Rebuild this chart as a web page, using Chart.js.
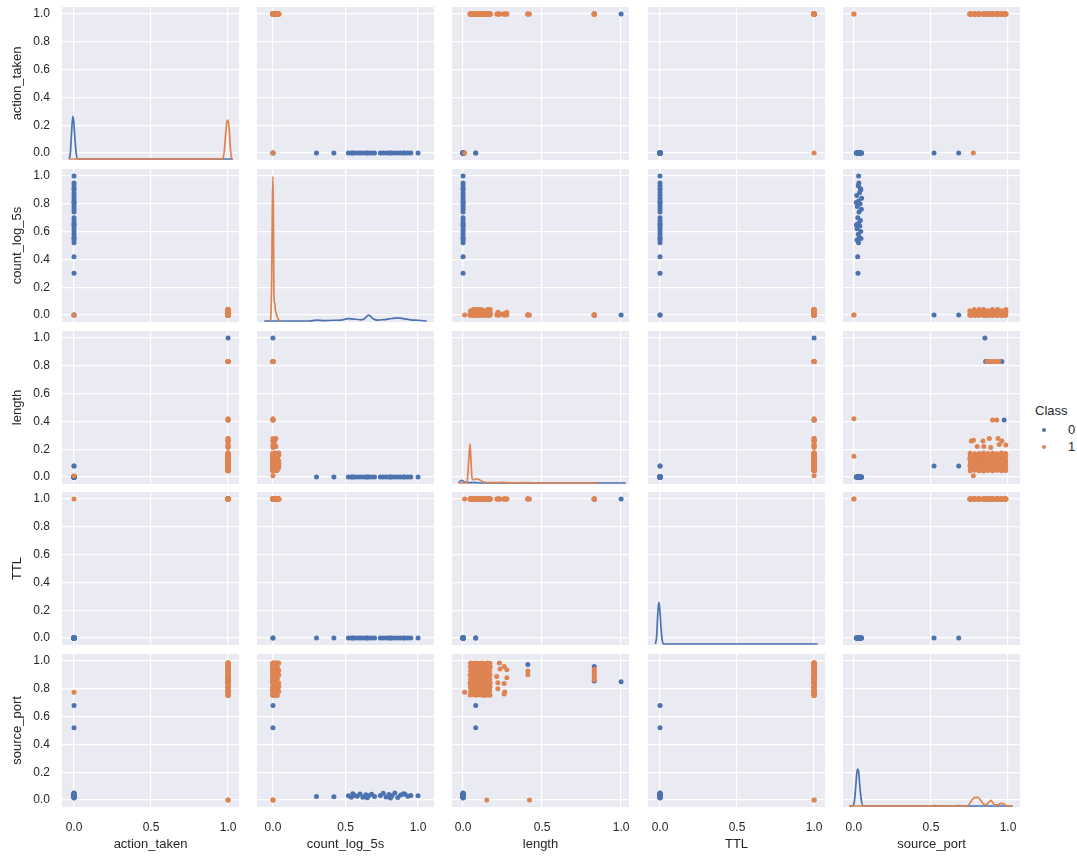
<!DOCTYPE html>
<html><head><meta charset="utf-8">
<script src="https://cdn.jsdelivr.net/npm/chart.js@4/dist/chart.umd.min.js"></script>
<style>
html,body{margin:0;padding:0;background:#fff;}
#wrap{position:relative;width:1077px;height:856px;overflow:hidden;font-family:"Liberation Sans",Arial,sans-serif;color:#262626;}
#wrap canvas{position:absolute;}
.leg{position:absolute;font-size:13px;line-height:16px;white-space:nowrap;color:#262626;}
.dot{position:absolute;width:4px;height:4px;border-radius:50%;}
</style></head><body><div id="wrap"></div>
<script>
// ---------------- data ----------------
const variables = ['action_taken', 'count_log_5s', 'length', 'TTL', 'source_port'];
const classLabels = ['0', '1'];
const xTickValues = [0, 0.5, 1.0];
const yTickValues = [0, 0.2, 0.4, 0.6, 0.8, 1.0];

// records: [action_taken, count_log_5s, length, TTL, source_port]
const class0Rows = [
  [0,0.30,0,0,0.026],[0,0.42,0,0,0.024],[0,0.52,0,0,0.030],[0,0.54,0,0,0.020],
  [0,0.55,0,0,0.046],[0,0.56,0,0,0.035],[0,0.58,0,0,0.028],[0,0.60,0,0,0.044],
  [0,0.62,0,0,0.020],[0,0.64,0,0,0.038],[0,0.65,0,0,0.016],[0,0.66,0,0,0.030],
  [0,0.68,0,0,0.042],[0,0.70,0,0,0.025],[0,0.74,0,0,0.033],[0,0.76,0,0,0.048],
  [0,0.78,0,0,0.022],[0,0.80,0,0,0.040],[0,0.81,0,0,0.015],[0,0.82,0,0,0.030],
  [0,0.84,0,0,0.050],[0,0.86,0,0,0.018],[0,0.88,0,0,0.036],[0,0.90,0,0,0.045],
  [0,0.91,0,0,0.042],[0,0.93,0,0,0.028],[0,0.95,0,0,0.032],[0,1.00,0,0,0.030],
  [1,0,1.0,1,0.85],[0,0,0.08,0,0.52],[0,0,0.08,0,0.68],
  [1,0,0.83,1,0.855],[1,0,0.83,1,0.96],[1,0,0.41,1,0.975]
];
const class1Rows = [
  [0,0,0.01,1,0.775],[1,0,0.42,1,0.0],[1,0,0.15,1,0.0],
  [1,0,0.83,1,0.865],[1,0,0.83,1,0.88],[1,0,0.83,1,0.895],[1,0,0.83,1,0.91],[1,0,0.83,1,0.925],[1,0,0.83,1,0.94],
  [1,0,0.41,1,0.90],[1,0,0.41,1,0.927],
  [1,0,0.26,1,0.762],[1,0.01,0.264,1,0.776],[1,0,0.26,1,0.838],[1,0.02,0.277,1,0.879],[1,0,0.277,1,0.936],
  [1,0.01,0.26,1,0.96],[1,0,0.22,1,0.80],[1,0.02,0.22,1,0.843],[1,0,0.213,1,0.888],[1,0.01,0.234,1,0.943],[1,0,0.23,1,0.986],
  [1,0,0.045,1,0.755],[1,0.01,0.063,1,0.758],[1,0,0.081,1,0.753],[1,0.02,0.099,1,0.757],[1,0,0.117,1,0.755],[1,0.03,0.135,1,0.752],[1,0,0.153,1,0.756],[1,0.01,0.171,1,0.754],
  [1,0,0.048,1,0.784],[1,0.04,0.066,1,0.781],[1,0,0.083,1,0.786],[1,0.01,0.101,1,0.783],[1,0,0.119,1,0.785],[1,0.02,0.137,1,0.782],[1,0,0.155,1,0.787],[1,0.03,0.168,1,0.784],
  [1,0.02,0.046,1,0.813],[1,0,0.064,1,0.811],[1,0.01,0.080,1,0.815],[1,0,0.098,1,0.812],[1,0.04,0.116,1,0.814],[1,0,0.134,1,0.810],[1,0.01,0.152,1,0.816],[1,0,0.170,1,0.813],
  [1,0,0.044,1,0.842],[1,0.03,0.062,1,0.840],[1,0,0.082,1,0.844],[1,0.02,0.100,1,0.841],[1,0,0.118,1,0.843],[1,0.01,0.136,1,0.839],[1,0,0.154,1,0.845],[1,0.04,0.172,1,0.842],
  [1,0.01,0.047,1,0.871],[1,0,0.065,1,0.869],[1,0.02,0.083,1,0.873],[1,0,0.100,1,0.870],[1,0.03,0.119,1,0.872],[1,0,0.137,1,0.868],[1,0.01,0.155,1,0.874],[1,0,0.169,1,0.871],
  [1,0,0.045,1,0.900],[1,0.02,0.063,1,0.898],[1,0,0.081,1,0.902],[1,0.04,0.099,1,0.899],[1,0,0.117,1,0.901],[1,0.01,0.135,1,0.897],[1,0,0.153,1,0.903],[1,0.02,0.171,1,0.900],
  [1,0.03,0.048,1,0.929],[1,0,0.066,1,0.927],[1,0.01,0.084,1,0.931],[1,0,0.102,1,0.928],[1,0.02,0.120,1,0.930],[1,0,0.138,1,0.926],[1,0.04,0.156,1,0.932],[1,0,0.168,1,0.929],
  [1,0,0.046,1,0.958],[1,0.01,0.064,1,0.956],[1,0,0.082,1,0.960],[1,0.03,0.100,1,0.957],[1,0,0.118,1,0.959],[1,0.02,0.136,1,0.955],[1,0,0.154,1,0.961],[1,0.01,0.172,1,0.958],
  [1,0.02,0.047,1,0.985],[1,0,0.065,1,0.983],[1,0.04,0.083,1,0.986],[1,0,0.101,1,0.984],[1,0.01,0.119,1,0.985],[1,0,0.137,1,0.982],[1,0.03,0.155,1,0.986],[1,0,0.170,1,0.984]
];

// KDE curves: [value, density]
const kdeActionTaken0 = [[-0.032,0],[-0.024,4],[-0.016,18],[-0.008,29.5],[-0.002,26],[0.006,14],[0.014,4],[0.024,0],[1.03,0]];
const kdeActionTaken1 = [[-0.032,0],[0.965,0],[0.975,5],[0.985,18],[0.993,26],[1.0,26.8],[1.008,20],[1.016,6],[1.025,0],[1.032,0]];
const kdeCount0 = [[-0.06,0],[0.25,0],[0.30,0.6],[0.35,0.2],[0.42,0.5],[0.47,0.6],[0.52,1.6],[0.57,1.2],[0.61,0.8],[0.63,1.5],[0.66,4.1],[0.69,1.6],[0.72,0.6],[0.76,0.9],[0.82,1.7],[0.86,2.1],[0.90,1.6],[0.95,0.8],[1.0,0.5],[1.06,0]];
const kdeCount1 = [[-0.016,0],[-0.009,25],[-0.004,80],[0.0,100],[0.003,75],[0.006,25],[0.009,13],[0.012,12.8],[0.016,8],[0.02,6],[0.025,4.4],[0.035,1.5],[0.048,0]];
const kdeLength0 = [[-0.03,0],[-0.02,1],[-0.008,1.9],[0.0,1.3],[0.01,0.7],[0.03,0.3],[0.08,0.3],[0.12,0],[1.03,0]];
const kdeLength1 = [[-0.025,0],[0.018,0],[0.027,2],[0.035,14],[0.044,27],[0.05,16],[0.056,4],[0.064,2.2],[0.076,2.6],[0.087,2.9],[0.1,2.4],[0.12,1.2],[0.14,0.4],[0.18,0.2],[0.25,0.5],[0.3,0.1],[0.4,0.2],[0.5,0],[0.85,0]];
const kdeTTL0 = [[-0.03,0],[-0.022,5],[-0.015,20],[-0.008,28.8],[-0.002,25],[0.006,12],[0.014,3],[0.024,0],[1.024,0]];
const kdeSource0 = [[-0.03,0],[-0.005,0],[0.004,4],[0.012,14],[0.019,23],[0.024,25.4],[0.03,24],[0.038,14],[0.048,4],[0.06,0],[0.5,0],[0.52,0.3],[0.55,0],[0.66,0],[0.68,0.3],[0.7,0],[1.03,0]];
const kdeSource1 = [[-0.03,0],[0.72,0],[0.745,0.8],[0.765,4],[0.785,6],[0.805,6],[0.825,3.5],[0.845,1],[0.86,0.9],[0.875,2.5],[0.89,3.9],[0.9,2.5],[0.915,0.7],[0.935,0.8],[0.95,1.6],[0.96,1.8],[0.975,1],[0.99,0.3],[1.024,0]];

// ---------------- drawing ----------------
const kdeByVar = [
  [kdeActionTaken0, kdeActionTaken1],
  [kdeCount0, kdeCount1],
  [kdeLength0, kdeLength1],
  [kdeTTL0, null],
  [kdeSource0, kdeSource1]
];
const rowsByClass = [class0Rows, class1Rows];
const COLORS = ['#4c72b0', '#dd8452'];
const BG = '#eaeaf2';
const TXT = '#262626';
const FONT = '"Liberation Sans", Arial, sans-serif';
const colLeft = [62, 257, 452, 648, 843];
const rowTop = [7, 169, 331, 492, 654];
const W = 177, H = 153, LEFTPAD = 62, BOTTOMPAD = 49;
const xRange = [[-0.078, 1.071], [-0.110, 1.110], [-0.070, 1.050], [-0.078, 1.071], [-0.071, 1.078]];
const yRange = [-0.05, 1.05];

const bgPlugin = {
  id: 'bg',
  beforeDraw(c) {
    const a = c.chartArea, ctx = c.ctx;
    ctx.save(); ctx.fillStyle = BG;
    ctx.fillRect(a.left, a.top, a.right - a.left, a.bottom - a.top);
    ctx.restore();
  }
};
function zeroPad(s) { s.paddingTop = 0; s.paddingBottom = 0; s.paddingLeft = 0; s.paddingRight = 0; }

const wrap = document.getElementById('wrap');
for (let i = 0; i < 5; i++) {
  for (let j = 0; j < 5; j++) {
    const padL = j === 0 ? LEFTPAD : 0;
    const padB = i === 4 ? BOTTOMPAD : 0;
    const cv = document.createElement('canvas');
    cv.width = W + padL; cv.height = H + padB;
    cv.style.left = (colLeft[j] - padL) + 'px';
    cv.style.top = rowTop[i] + 'px';
    cv.style.width = (W + padL) + 'px'; cv.style.height = (H + padB) + 'px';
    wrap.appendChild(cv);

    const datasets = [];
    if (i === j) {
      kdeByVar[i].forEach((curve, k) => {
        if (!curve) return;
        datasets.push({
          label: classLabels[k], order: 1 - k,
          data: curve.map(p => ({ x: p[0], y: p[1] })),
          yAxisID: 'yk', showLine: true, pointRadius: 0, borderColor: COLORS[k],
          borderWidth: 1.7, cubicInterpolationMode: 'monotone', fill: false
        });
      });
    } else {
      rowsByClass.forEach((rows, k) => {
        datasets.push({
          label: classLabels[k], order: 1 - k,
          data: rows.map(r => ({ x: r[j], y: r[i] })),
          pointRadius: 2.5, pointHoverRadius: 2.5, borderWidth: 0,
          backgroundColor: COLORS[k], borderColor: COLORS[k]
        });
      });
    }

    const scales = {
      x: {
        type: 'linear', position: 'bottom', min: xRange[j][0], max: xRange[j][1],
        grid: { color: '#ffffff', lineWidth: 1.2, drawTicks: false },
        border: { display: false },
        ticks: { display: i === 4, padding: 13, color: TXT, font: { family: FONT, size: 12 }, callback: v => Number(v).toFixed(1) },
        title: { display: i === 4, text: variables[j], color: TXT, font: { family: FONT, size: 13 }, padding: { top: 0, bottom: 4 } },
        afterBuildTicks: s => { s.ticks = xTickValues.map(v => ({ value: v })); },
        afterFit: s => { s.height = padB; zeroPad(s); }
      },
      y: {
        type: 'linear', position: 'left', min: yRange[0], max: yRange[1],
        grid: { color: '#ffffff', lineWidth: 1.2, drawTicks: false },
        border: { display: false },
        ticks: { display: j === 0, padding: 12, color: TXT, font: { family: FONT, size: 12 }, callback: v => Number(v).toFixed(1) },
        title: { display: j === 0, text: variables[i], color: TXT, font: { family: FONT, size: 13 }, padding: { top: 9.2, bottom: 0 } },
        afterBuildTicks: s => { s.ticks = yTickValues.map(v => ({ value: v })); },
        afterFit: s => { s.width = padL; zeroPad(s); }
      }
    };
    if (i === j) {
      scales.yk = { type: 'linear', display: false, min: -0.7, max: 105 };
    }

    new Chart(cv, {
      type: 'scatter',
      data: { datasets },
      options: {
        responsive: false, devicePixelRatio: 1, animation: false,
        layout: { padding: 0, autoPadding: false },
        plugins: { legend: { display: false }, tooltip: { enabled: false } },
        scales
      },
      plugins: [bgPlugin]
    });
  }
}

// legend
function addDiv(cls, css, text) {
  const d = document.createElement('div'); d.className = cls;
  Object.assign(d.style, css); if (text !== undefined) d.textContent = text;
  wrap.appendChild(d); return d;
}
addDiv('leg', { left: '1035px', top: '403px' }, 'Class');
classLabels.forEach((lab, k) => {
  const cy = 430 + k * 17;
  addDiv('dot', { left: '1042px', top: (cy - 2) + 'px', background: COLORS[k] });
  addDiv('leg', { left: '1068px', top: (cy - 8) + 'px' }, lab);
});
</script></body></html>
